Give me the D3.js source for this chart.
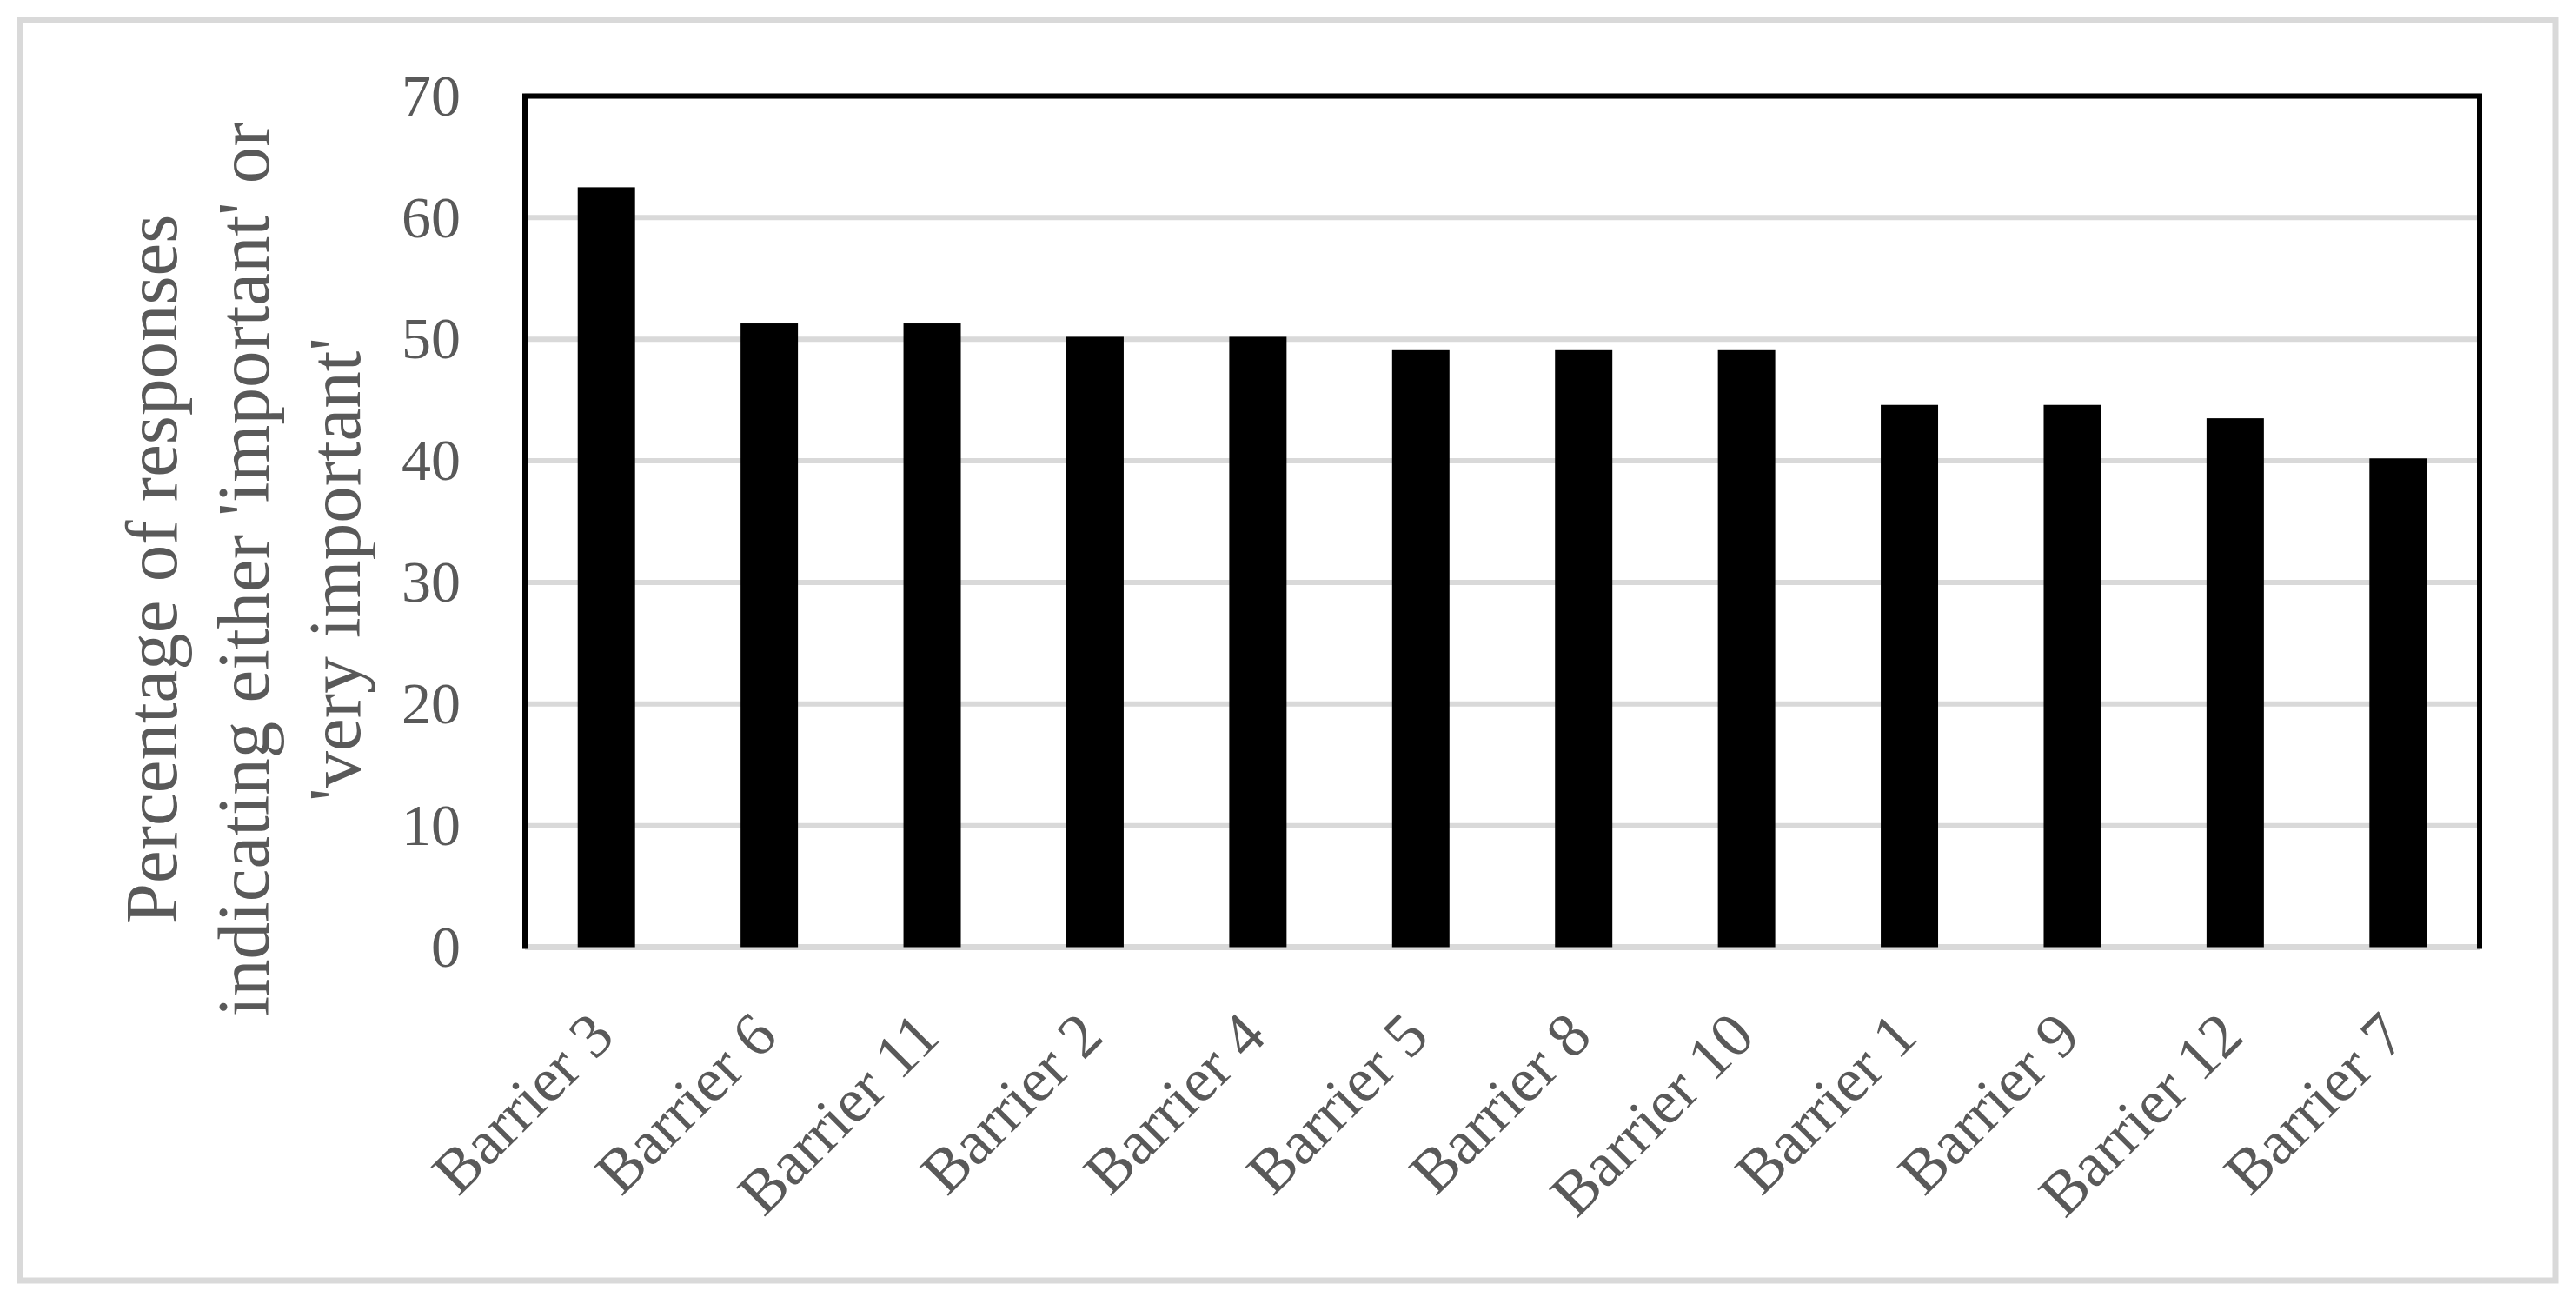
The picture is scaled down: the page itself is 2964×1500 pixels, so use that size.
<!DOCTYPE html>
<meta charset="utf-8">
<style>
    body { margin: 0; background: #fff; }
    text { font-family: "Liberation Serif", serif; fill: #595959; }
</style>
<body>
<div id="chart"></div>
<script src="https://cdn.jsdelivr.net/npm/d3@7"></script>
<script>
    var width = 2964,
        height = 1500

    var categories = ["Barrier 3", "Barrier 6", "Barrier 11", "Barrier 2", "Barrier 4", "Barrier 5",
        "Barrier 8", "Barrier 10", "Barrier 1", "Barrier 9", "Barrier 12", "Barrier 7"]
    var values = [62.5, 51.3, 51.3, 50.2, 50.2, 49.1, 49.1, 49.1, 44.6, 44.6, 43.5, 40.2]
    var yTicks = [0, 10, 20, 30, 40, 50, 60, 70]
    var titleLines = ["Percentage of responses", "indicating either 'important' or", "'very important'"]

    // plot area edges (note: "top" is a reserved window property)
    var plotL = 604, plotR = 2853, plotT = 110.5, plotB = 1089.5

    var svg = d3.select("#chart").append("svg")
        .attr("width", width)
        .attr("height", height);

    // outer chart border
    svg.append("rect")
        .attr("x", 23).attr("y", 23)
        .attr("width", 2917).attr("height", 1450)
        .attr("fill", "#fff")
        .attr("stroke", "#d9d9d9")
        .attr("stroke-width", 7);

    var x = d3.scaleBand()
        .domain(categories)
        .range([plotL, plotR])
        .paddingInner(0.648)
        .paddingOuter(0.324);

    var y = d3.scaleLinear()
        .domain([0, 70])
        .range([plotB, plotT]);

    // gridlines
    svg.selectAll(".grid")
        .data(yTicks)
        .enter().append("line")
        .attr("class", "grid")
        .attr("x1", plotL).attr("x2", plotR)
        .attr("y1", function (d) { return y(d); })
        .attr("y2", function (d) { return y(d); })
        .attr("stroke", "#d9d9d9")
        .attr("stroke-width", function (d) { return d === 0 ? 7 : 6; });

    // bars
    svg.selectAll(".bar")
        .data(values)
        .enter().append("rect")
        .attr("class", "bar")
        .attr("x", function (d, i) { return x(categories[i]); })
        .attr("width", x.bandwidth())
        .attr("y", function (d) { return y(d); })
        .attr("height", function (d) { return y(0) - y(d); })
        .attr("fill", "#000");

    // black frame: left axis, top and right borders
    svg.append("path")
        .attr("d", "M" + plotL + "," + (plotB + 2) + "V" + plotT + "H" + plotR + "V" + (plotB + 2))
        .attr("fill", "none")
        .attr("stroke", "#000")
        .attr("stroke-width", 6);

    // y tick labels
    var yAxis = svg.append("g")
        .attr("transform", "translate(" + plotL + ",0)")
        .call(d3.axisLeft(y).tickValues(yTicks).tickSize(0).tickPadding(74));
    yAxis.select(".domain").remove();
    yAxis.selectAll("text")
        .attr("dy", "0.32em")
        .style("font-size", "68px")
        .style("font-family", "Liberation Serif")
        .attr("fill", "#595959");

    // x category labels, rotated
    svg.selectAll(".xlab")
        .data(categories)
        .enter().append("text")
        .attr("class", "xlab")
        .attr("transform", function (d) {
            return "translate(" + (x(d) + x.bandwidth() / 2 + 12) + ",1195) rotate(-45)";
        })
        .attr("text-anchor", "end")
        .style("font-size", "72px")
        .text(function (d) { return d; });

    // y title
    svg.selectAll(".ytitle")
        .data(titleLines)
        .enter().append("text")
        .attr("class", "ytitle")
        .attr("transform", function (d, i) {
            return "translate(" + (203 + i * 105.5) + ",655) rotate(-90)";
        })
        .attr("text-anchor", "middle")
        .style("font-size", "85px")
        .text(function (d) { return d; });
</script>
</body>
